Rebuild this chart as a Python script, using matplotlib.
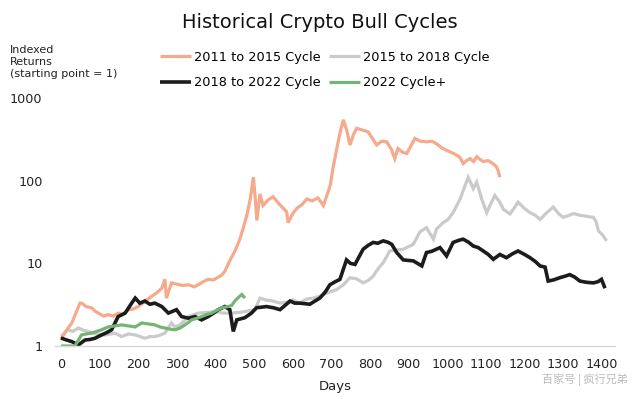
import matplotlib.pyplot as plt
from matplotlib.ticker import FixedLocator, NullLocator

plt.rcParams['font.family'] = ['DejaVu Sans', 'Noto Sans CJK SC']

# ── Data (days since cycle start, index value) ─────────────────────────────
days_2011 = [0, 10, 28, 40, 49, 54, 65, 79, 90, 97,
             110, 122, 135, 148, 160, 174, 187, 200, 215, 235,
             248, 261, 269, 273, 286, 300, 315, 330, 345, 355,
             368, 381, 395, 416, 424, 438, 450, 463, 472, 481,
             490, 498, 503, 507, 515, 523, 535, 549, 565, 584,
             588, 600, 610, 625, 636, 650, 665, 679, 690, 697,
             705, 714, 723, 731, 740, 748, 757, 765, 780, 795,
             805, 817, 830, 843, 855, 864, 872, 885, 895, 905,
             916, 930, 946, 960, 972, 985, 998, 1010, 1024, 1033,
             1041, 1050, 1059, 1068, 1076, 1085, 1093, 1105, 1115, 1122,
             1127, 1132, 1136]
ret_2011 = [1.2, 1.45, 1.9, 2.6, 3.3, 3.3, 3.0, 2.9, 2.6, 2.5,
            2.3, 2.4, 2.3, 2.5, 2.4, 2.75, 2.8, 3.0, 3.4, 4.0,
            4.4, 5.0, 6.4, 3.8, 5.8, 5.6, 5.4, 5.5, 5.2, 5.5,
            6.0, 6.4, 6.3, 7.2, 8.0, 11, 14, 19.6, 27, 38,
            60, 110, 60, 33, 69, 50, 58, 64, 52, 42,
            31, 40, 46, 52, 60, 57, 62, 50, 70, 88,
            150, 245, 395, 545, 400, 270, 360, 430, 410, 390,
            330, 270, 300, 295, 240, 185, 245, 220, 213, 260,
            325, 300, 295, 300, 280, 250, 233, 220, 204, 190,
            161, 175, 185, 170, 195, 180, 170, 175, 165, 155,
            147, 130, 110]

days_2015 = [0, 10, 19, 30, 45, 58, 71, 90, 114, 140,
             157, 175, 192, 205, 217, 230, 243, 256, 269, 286,
             295, 308, 330, 355, 380, 399, 420, 442, 460, 476,
             490, 502, 515, 530, 549, 567, 585, 601, 618, 636,
             653, 670, 690, 713, 731, 748, 765, 782, 795, 808,
             820, 834, 851, 868, 886, 900, 912, 929, 946, 964,
             972, 989, 1002, 1015, 1033, 1045, 1054, 1067, 1076, 1089,
             1102, 1112, 1123, 1136, 1145, 1162, 1175, 1183, 1200, 1214,
             1228, 1240, 1255, 1274, 1288, 1300, 1315, 1326, 1345, 1362,
             1378, 1385, 1391, 1402, 1412]
ret_2015 = [1.3, 1.45, 1.57, 1.5, 1.65, 1.55, 1.5, 1.4, 1.36, 1.43,
            1.3, 1.4, 1.36, 1.3, 1.24, 1.3, 1.3, 1.35, 1.43, 1.9,
            1.7, 1.8, 2.27, 2.5, 2.55, 2.6, 2.5, 2.5, 2.55, 2.6,
            2.7, 2.75, 3.8, 3.6, 3.5, 3.3, 3.4, 3.6, 3.3, 3.7,
            3.8, 4.0, 4.4, 4.8, 5.5, 6.7, 6.5, 5.8, 6.2, 7.0,
            8.5, 10.2, 14.1, 14.5, 14.8, 16, 17, 24, 27, 19.6,
            26, 31, 34, 41, 60, 85, 110, 80, 96, 60,
            41, 52, 66, 55, 45, 39.6, 48, 55, 46, 41,
            38, 34, 40, 48, 40, 36, 38, 40, 38, 37,
            36, 32, 24.8, 22, 18.7]

days_2018 = [0, 15, 28, 45, 62, 75, 88, 105, 118, 131,
             148, 166, 183, 192, 204, 217, 230, 243, 261, 278,
             299, 312, 330, 347, 364, 381, 395, 407, 424, 437,
             446, 455, 476, 493, 506, 532, 550, 567, 580, 593,
             605, 618, 644, 670, 684, 696, 710, 722, 739, 749,
             761, 782, 795, 808, 820, 834, 846, 856, 869, 886,
             912, 934, 946, 960, 981, 998, 1015, 1030, 1041, 1055,
             1067, 1080, 1093, 1106, 1119, 1136, 1153, 1168, 1183, 1200,
             1214, 1228, 1240, 1253, 1261, 1275, 1291, 1305, 1317, 1330,
             1343, 1360, 1378, 1390, 1399, 1404, 1408]
ret_2018 = [1.25, 1.18, 1.13, 1.03, 1.18, 1.2, 1.24, 1.36, 1.45, 1.57,
            2.27, 2.5, 3.3, 3.8, 3.3, 3.5, 3.2, 3.3, 3.0, 2.5,
            2.75, 2.27, 2.17, 2.27, 2.07, 2.27, 2.5, 2.75, 3.0, 2.75,
            1.5, 2.07, 2.2, 2.5, 2.9, 3.0, 2.9, 2.75, 3.1, 3.5,
            3.3, 3.3, 3.2, 3.8, 4.5, 5.5, 6.0, 6.4, 11, 10,
            9.7, 14.8, 16.5, 17.9, 17.5, 18.7, 18.0, 17, 13.5, 11,
            10.7, 9.3, 13.5, 14, 15.5, 12.3, 17.9, 19, 19.6, 18,
            16.2, 15.5, 14.1, 12.8, 11.2, 12.8, 11.7, 13, 14.1, 12.8,
            11.7, 10.5, 9.3, 9.0, 6.1, 6.3, 6.7, 7.0, 7.3, 6.8,
            6.1, 5.9, 5.8, 6.0, 6.4, 5.6, 5.0]

days_2022 = [0, 20, 36, 53, 66, 79, 92, 105, 122, 140,
             157, 175, 192, 209, 226, 243, 256, 269, 282, 295,
             308, 321, 338, 350, 364, 377, 390, 403, 416, 433,
             442, 450, 460, 468, 476]
ret_2022 = [1.0, 1.0, 1.0, 1.36, 1.4, 1.43, 1.5, 1.57, 1.7, 1.75,
            1.8, 1.75, 1.7, 1.9, 1.85, 1.8, 1.7, 1.65, 1.6, 1.57,
            1.65, 1.8, 2.07, 2.15, 2.27, 2.4, 2.5, 2.7, 2.9, 3.0,
            3.1, 3.5, 3.9, 4.2, 3.8]

cycles = [
    ("2011 to 2015 Cycle", days_2011, ret_2011, "#F5AA8C", 2.3),
    ("2015 to 2018 Cycle", days_2015, ret_2015, "#CACACA", 2.3),
    ("2018 to 2022 Cycle", days_2018, ret_2018, "#1C1C1C", 2.6),
    ("2022 Cycle+", days_2022, ret_2022, "#74B574", 2.3),
]

x_ticks = list(range(0, 1500, 100))
y_ticks = [1, 10, 100, 1000]

# ── Plot ───────────────────────────────────────────────────────────────────
fig = plt.figure(figsize=(6.4, 3.99), dpi=100)
ax = fig.add_axes([55 / 640, 53 / 399, 560 / 640, 248 / 399])

lines = {}
for label, d, r, c, lw in [cycles[1], cycles[0], cycles[2], cycles[3]]:
    lines[label], = ax.plot(d, r, color=c, lw=lw, label=label,
                            solid_joinstyle="miter", solid_capstyle="butt")

ax.set_yscale("log")
ax.set_ylim(1, 1000)
ax.set_xlim(-15.5, 1434)
ax.yaxis.set_major_locator(FixedLocator(y_ticks))
ax.yaxis.set_minor_locator(NullLocator())
ax.set_yticklabels([str(v) for v in y_ticks])
ax.set_xticks(x_ticks)
ax.tick_params(axis="both", length=0, labelsize=9.2, colors="#222222")
ax.tick_params(axis="y", pad=9)
ax.tick_params(axis="x", pad=9)
for s in ["top", "right", "left"]:
    ax.spines[s].set_visible(False)
ax.spines["bottom"].set_color("#D8D8D8")
ax.spines["bottom"].set_linewidth(1.0)
ax.set_xlabel("Days", fontsize=9.5, color="#222222", labelpad=6)

fig.text(0.5, 1 - 22 / 399, "Historical Crypto Bull Cycles", ha="center", va="center",
         fontsize=14, color="#111111")
fig.text(10 / 640, 1 - 45 / 399, "Indexed\nReturns\n(starting point = 1)", ha="left",
         va="top", fontsize=8, linespacing=1.25, color="#222222")

order = ["2011 to 2015 Cycle", "2018 to 2022 Cycle", "2015 to 2018 Cycle", "2022 Cycle+"]
fig.legend([lines[k] for k in order], order, ncol=2, frameon=False,
           loc="upper left", bbox_to_anchor=(160 / 640, 1 - 51 / 399),
           fontsize=9.3, handlelength=2.4, handletextpad=0.2, columnspacing=0.7,
           labelspacing=0.95, borderpad=0, borderaxespad=0)

fig.text(628 / 640, 1 - 380 / 399, "百家号 | 疯行兄弟", ha="right", va="center",
         fontsize=8, color="#BBBBBB", family=["Noto Sans CJK SC", "DejaVu Sans"])

fig.savefig("out.png", dpi=100)
